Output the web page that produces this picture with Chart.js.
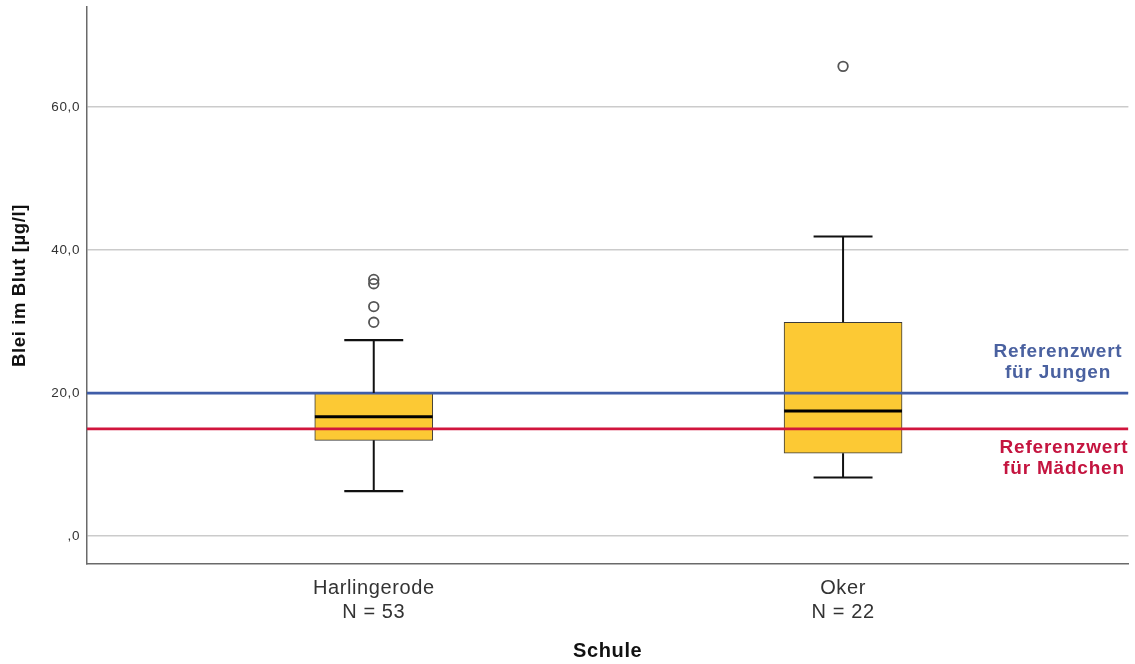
<!DOCTYPE html>
<html>
<head>
<meta charset="utf-8">
<script src="https://cdn.jsdelivr.net/npm/chart.js@4.4.1/dist/chart.umd.min.js"></script>
<style>
  html, body { margin: 0; padding: 0; background: #ffffff; }
  #wrap { width: 1135px; height: 664px; }
</style>
</head>
<body>
<div id="wrap"><canvas id="c" width="1135" height="664"></canvas></div>
<script>
// ---------- data ----------
const categories   = ["Harlingerode", "Oker"];
const groupCounts  = [53, 22];
const groupX       = [1, 2];
const whiskerLow   = [6.3, 8.2];
const q1Values     = [13.4, 11.6];
const medianValues = [16.7, 17.5];
const q3Values     = [20.0, 29.9];
const whiskerHigh  = [27.4, 41.9];
const outliersHarlingerode = [35.9, 35.3, 32.1, 29.9];
const outliersOker         = [65.7];
const yTickValues  = [0, 20, 40, 60];
const yTickLabels  = [",0", "20,0", "40,0", "60,0"];
const refJungen    = 20;
const refMaedchen  = 15;
const refJungenLabel   = ["Referenzwert", "für Jungen"];
const refMaedchenLabel = ["Referenzwert", "für Mädchen"];

// ---------- layout / style constants ----------
const X_MIN = 0.389, X_MAX = 2.608;
const Y_MIN = -3.9, Y_MAX = 74.0;
const HALF_BOX = 0.1255;   // half box width in x units
const HALF_CAP = 0.0628;   // half whisker cap width in x units
const BOX_FILL = "#FCC934";
const BLUE_LINE = "#3F5DA8", BLUE_TEXT = "#4A61A0";
const RED_LINE = "#D1153D", RED_TEXT = "#C4143F";
const FONT = "'Liberation Sans', Arial, sans-serif";

const outlierSets = [outliersHarlingerode, outliersOker];

function seg(x1, y1, x2, y2, color, width, order) {
  return {
    type: "scatter",
    data: [{ x: x1, y: y1 }, { x: x2, y: y2 }],
    showLine: true,
    borderColor: color,
    borderWidth: width,
    pointRadius: 0,
    pointHoverRadius: 0,
    fill: false,
    order: order,
    borderCapStyle: "butt"
  };
}

const datasets = [];

// boxes (floating bars)
datasets.push({
  type: "bar",
  data: groupX.map((x, i) => ({ x: x, y: [q1Values[i], q3Values[i]] })),
  backgroundColor: BOX_FILL,
  borderColor: "#3a3a3a",
  borderWidth: 1,
  borderSkipped: false,
  barThickness: 118,
  order: 10
});

// reference lines
datasets.push(seg(X_MIN, refJungen, X_MAX, refJungen, BLUE_LINE, 2.6, 5));
datasets.push(seg(X_MIN, refMaedchen, X_MAX, refMaedchen, RED_LINE, 2.6, 5));

// whiskers, caps, medians
groupX.forEach((x, i) => {
  datasets.push(seg(x, q3Values[i], x, whiskerHigh[i], "#111", 2, 3));
  datasets.push(seg(x, q1Values[i], x, whiskerLow[i], "#111", 2, 3));
  datasets.push(seg(x - HALF_CAP, whiskerHigh[i], x + HALF_CAP, whiskerHigh[i], "#111", 2.2, 3));
  datasets.push(seg(x - HALF_CAP, whiskerLow[i], x + HALF_CAP, whiskerLow[i], "#111", 2.2, 3));
  datasets.push(seg(x - HALF_BOX, medianValues[i], x + HALF_BOX, medianValues[i], "#000", 3, 2));
});

// outliers
datasets.push({
  type: "scatter",
  data: outlierSets.flatMap((arr, i) => arr.map(v => ({ x: groupX[i], y: v }))),
  pointStyle: "circle",
  pointRadius: 4.8,
  pointBorderWidth: 1.8,
  pointBorderColor: "#555",
  pointBackgroundColor: "rgba(255,255,255,0)",
  showLine: false,
  order: 1
});

// slight letter spacing, like the reference rendering
const spacing = {
  id: "spacing",
  beforeInit(chart) { if ("letterSpacing" in chart.ctx) chart.ctx.letterSpacing = "0.6px"; },
  beforeLayout(chart) { if ("letterSpacing" in chart.ctx) chart.ctx.letterSpacing = "0.6px"; }
};

// reference label plugin
const refLabels = {
  id: "refLabels",
  afterDatasetsDraw(chart) {
    const ctx = chart.ctx;
    const y = chart.scales.y;
    ctx.save();
    if ("letterSpacing" in ctx) ctx.letterSpacing = "0.8px";
    ctx.font = "bold 19px " + FONT;
    ctx.textAlign = "center";
    ctx.textBaseline = "middle";
    const yj = y.getPixelForValue(refJungen);
    ctx.fillStyle = BLUE_TEXT;
    ctx.fillText(refJungenLabel[0], 1058, yj - 41);
    ctx.fillText(refJungenLabel[1], 1058, yj - 20);
    const ym = y.getPixelForValue(refMaedchen);
    ctx.fillStyle = RED_TEXT;
    ctx.fillText(refMaedchenLabel[0], 1064, ym + 19);
    ctx.fillText(refMaedchenLabel[1], 1064, ym + 40);
    ctx.restore();
  }
};

new Chart(document.getElementById("c"), {
  type: "bar",
  data: { datasets: datasets },
  plugins: [spacing, refLabels],
  options: {
    responsive: false,
    animation: false,
    events: [],
    layout: { padding: { top: 0, right: 5, left: 0, bottom: 0 } },
    plugins: {
      legend: { display: false },
      tooltip: { enabled: false },
      title: { display: false }
    },
    scales: {
      x: {
        type: "linear",
        min: X_MIN,
        max: X_MAX,
        offset: false,
        afterBuildTicks: s => { s.ticks = groupX.map(v => ({ value: v })); },
        afterFit: s => { s.height = 100; s.paddingLeft = 0; s.paddingRight = 0; },
        grid: { display: false, drawTicks: false },
        border: { display: true, color: "#6a6a6a", width: 1.5 },
        ticks: {
          autoSkip: false,
          maxRotation: 0,
          padding: 12,
          color: "#333",
          font: { family: FONT, size: 20 },
          callback: v => {
            const i = groupX.indexOf(v);
            return i >= 0 ? [categories[i], "N = " + groupCounts[i]] : "";
          }
        },
        title: {
          display: true,
          text: "Schule",
          color: "#111",
          padding: { top: 4, bottom: 1 },
          font: { family: FONT, size: 20, weight: "bold" }
        }
      },
      y: {
        type: "linear",
        min: Y_MIN,
        max: Y_MAX,
        afterBuildTicks: s => { s.ticks = yTickValues.map(v => ({ value: v })); },
        afterFit: s => { s.width = 87; s.paddingTop = 7; s.paddingBottom = 0; },
        grid: { color: "#cbcbcb", lineWidth: 1.6, drawTicks: false },
        border: { display: true, color: "#6a6a6a", width: 1.5 },
        ticks: {
          padding: 7,
          color: "#333",
          font: { family: FONT, size: 13.5 },
          callback: v => {
            const i = yTickValues.indexOf(v);
            return i >= 0 ? yTickLabels[i] : "";
          }
        },
        title: {
          display: true,
          text: "Blei im Blut [µg/l]",
          color: "#111",
          padding: { top: 9, bottom: 4 },
          font: { family: FONT, size: 18.5, weight: "bold" }
        }
      }
    }
  }
});
</script>
</body>
</html>
